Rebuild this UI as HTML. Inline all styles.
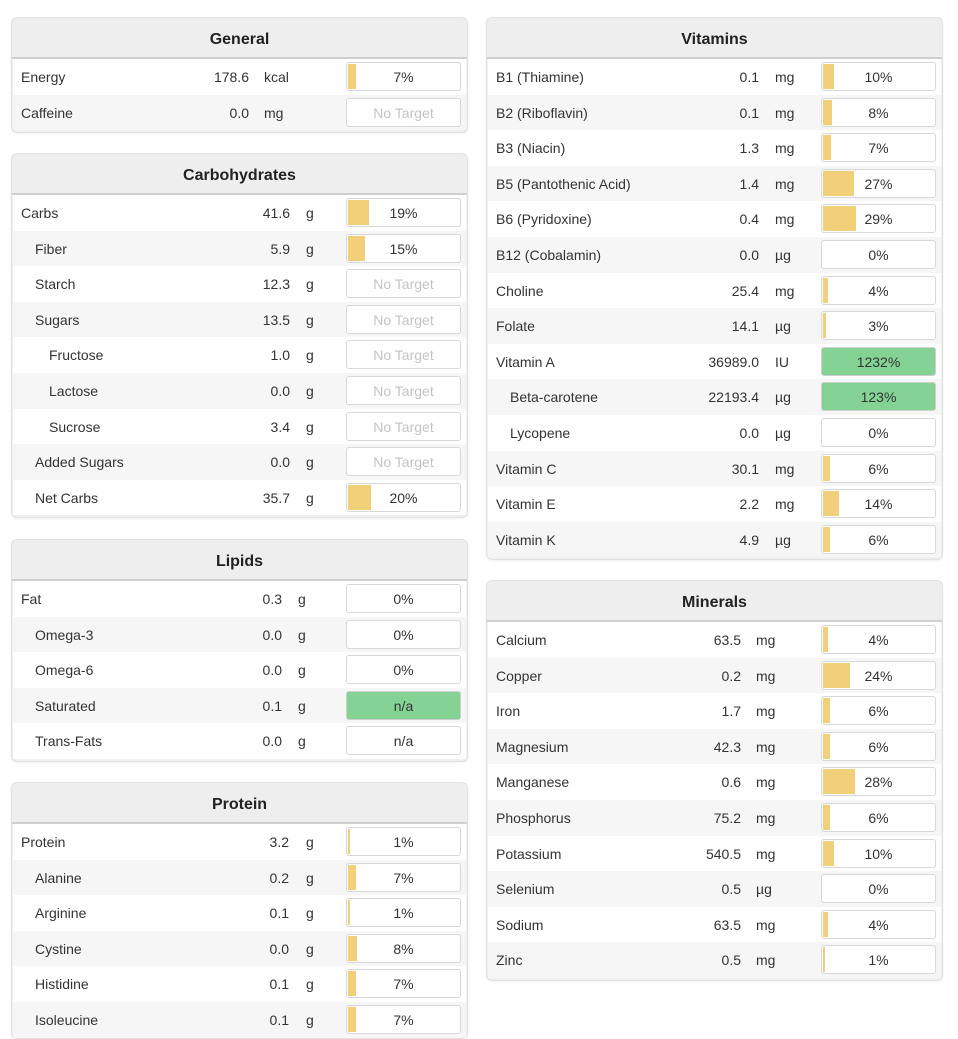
<!DOCTYPE html>
<html><head><meta charset="utf-8"><style>
body{margin:0;width:958px;height:1000px;overflow:hidden;background:#fff;font-family:"Liberation Sans",sans-serif;color:#333;position:relative}
.p{position:absolute;width:455px;background:#f0f0f0;border:1px solid #e2e2e2;border-radius:6px;box-shadow:0 1px 2px rgba(0,0,0,.06)}
.h{height:39px;border-bottom:2px solid #cfcfcf;text-align:center;font-weight:bold;font-size:16px;line-height:43px;color:#222;background:#eeeeee;border-radius:6px 6px 0 0}
.r{position:relative;height:35.6px;background:#fff;font-size:14px;line-height:37px;margin:0 1px}
.r:nth-child(even){background:#f6f6f6}
.n{position:absolute;left:8px}
.i1 .n{left:22px}.i2 .n{left:36px}
.v{position:absolute;text-align:right;width:100px}
.u{position:absolute}
.b{position:absolute;left:333px;top:3px;width:113px;height:27px;border:1px solid #d8d8d8;border-radius:3px;background:#fff;overflow:hidden;text-align:center;line-height:28px;font-size:14px}
.b i{position:absolute;left:1px;top:1px;bottom:1px;background:#f2d07a}
.b span{position:relative}
.b.g{background:#85d394;border-color:#cfcfcf}
.b.nt{color:#c4c4c4}
.pg .v{left:136px}.pg .u{left:251px}
.pc .v{left:177px}.pc .u{left:293px}
.pl .v{left:169px}.pl .u{left:285px}
.pp .v{left:176px}.pp .u{left:293px}
.pv .v{left:171px}.pv .u{left:287px}
.pm .v{left:153px}.pm .u{left:268px}
</style></head><body>

<div class="p pg" style="left:11px;top:17px"><div class="h">General</div>
<div>
<div class="r"><span class="n">Energy</span><span class="v">178.6</span><span class="u">kcal</span><div class="b"><i style="width:7%"></i><span>7%</span></div></div>
<div class="r"><span class="n">Caffeine</span><span class="v">0.0</span><span class="u">mg</span><div class="b nt">No Target</div></div>
</div><div style="height:2px"></div></div>

<div class="p pc" style="left:11px;top:153px"><div class="h">Carbohydrates</div>
<div>
<div class="r"><span class="n">Carbs</span><span class="v">41.6</span><span class="u">g</span><div class="b"><i style="width:19%"></i><span>19%</span></div></div>
<div class="r i1"><span class="n">Fiber</span><span class="v">5.9</span><span class="u">g</span><div class="b"><i style="width:15%"></i><span>15%</span></div></div>
<div class="r i1"><span class="n">Starch</span><span class="v">12.3</span><span class="u">g</span><div class="b nt">No Target</div></div>
<div class="r i1"><span class="n">Sugars</span><span class="v">13.5</span><span class="u">g</span><div class="b nt">No Target</div></div>
<div class="r i2"><span class="n">Fructose</span><span class="v">1.0</span><span class="u">g</span><div class="b nt">No Target</div></div>
<div class="r i2"><span class="n">Lactose</span><span class="v">0.0</span><span class="u">g</span><div class="b nt">No Target</div></div>
<div class="r i2"><span class="n">Sucrose</span><span class="v">3.4</span><span class="u">g</span><div class="b nt">No Target</div></div>
<div class="r i1"><span class="n">Added Sugars</span><span class="v">0.0</span><span class="u">g</span><div class="b nt">No Target</div></div>
<div class="r i1"><span class="n">Net Carbs</span><span class="v">35.7</span><span class="u">g</span><div class="b"><i style="width:20%"></i><span>20%</span></div></div>
</div><div style="height:2px"></div></div>

<div class="p pl" style="left:11px;top:539px"><div class="h">Lipids</div>
<div>
<div class="r"><span class="n">Fat</span><span class="v">0.3</span><span class="u">g</span><div class="b"><span>0%</span></div></div>
<div class="r i1"><span class="n">Omega-3</span><span class="v">0.0</span><span class="u">g</span><div class="b"><span>0%</span></div></div>
<div class="r i1"><span class="n">Omega-6</span><span class="v">0.0</span><span class="u">g</span><div class="b"><span>0%</span></div></div>
<div class="r i1"><span class="n">Saturated</span><span class="v">0.1</span><span class="u">g</span><div class="b g"><span>n/a</span></div></div>
<div class="r i1"><span class="n">Trans-Fats</span><span class="v">0.0</span><span class="u">g</span><div class="b"><span>n/a</span></div></div>
</div><div style="height:2px"></div></div>

<div class="p pp" style="left:11px;top:782px"><div class="h">Protein</div>
<div>
<div class="r"><span class="n">Protein</span><span class="v">3.2</span><span class="u">g</span><div class="b"><i style="width:1.5%"></i><span>1%</span></div></div>
<div class="r i1"><span class="n">Alanine</span><span class="v">0.2</span><span class="u">g</span><div class="b"><i style="width:7%"></i><span>7%</span></div></div>
<div class="r i1"><span class="n">Arginine</span><span class="v">0.1</span><span class="u">g</span><div class="b"><i style="width:1.5%"></i><span>1%</span></div></div>
<div class="r i1"><span class="n">Cystine</span><span class="v">0.0</span><span class="u">g</span><div class="b"><i style="width:8%"></i><span>8%</span></div></div>
<div class="r i1"><span class="n">Histidine</span><span class="v">0.1</span><span class="u">g</span><div class="b"><i style="width:7%"></i><span>7%</span></div></div>
<div class="r i1"><span class="n">Isoleucine</span><span class="v">0.1</span><span class="u">g</span><div class="b"><i style="width:7%"></i><span>7%</span></div></div>
</div></div>

<div class="p pv" style="left:486px;top:17px"><div class="h">Vitamins</div>
<div>
<div class="r"><span class="n">B1 (Thiamine)</span><span class="v">0.1</span><span class="u">mg</span><div class="b"><i style="width:10%"></i><span>10%</span></div></div>
<div class="r"><span class="n">B2 (Riboflavin)</span><span class="v">0.1</span><span class="u">mg</span><div class="b"><i style="width:8%"></i><span>8%</span></div></div>
<div class="r"><span class="n">B3 (Niacin)</span><span class="v">1.3</span><span class="u">mg</span><div class="b"><i style="width:7%"></i><span>7%</span></div></div>
<div class="r"><span class="n">B5 (Pantothenic Acid)</span><span class="v">1.4</span><span class="u">mg</span><div class="b"><i style="width:27%"></i><span>27%</span></div></div>
<div class="r"><span class="n">B6 (Pyridoxine)</span><span class="v">0.4</span><span class="u">mg</span><div class="b"><i style="width:29%"></i><span>29%</span></div></div>
<div class="r"><span class="n">B12 (Cobalamin)</span><span class="v">0.0</span><span class="u">µg</span><div class="b"><span>0%</span></div></div>
<div class="r"><span class="n">Choline</span><span class="v">25.4</span><span class="u">mg</span><div class="b"><i style="width:4%"></i><span>4%</span></div></div>
<div class="r"><span class="n">Folate</span><span class="v">14.1</span><span class="u">µg</span><div class="b"><i style="width:3%"></i><span>3%</span></div></div>
<div class="r"><span class="n">Vitamin A</span><span class="v">36989.0</span><span class="u">IU</span><div class="b g"><span>1232%</span></div></div>
<div class="r i1"><span class="n">Beta-carotene</span><span class="v">22193.4</span><span class="u">µg</span><div class="b g"><span>123%</span></div></div>
<div class="r i1"><span class="n">Lycopene</span><span class="v">0.0</span><span class="u">µg</span><div class="b"><span>0%</span></div></div>
<div class="r"><span class="n">Vitamin C</span><span class="v">30.1</span><span class="u">mg</span><div class="b"><i style="width:6%"></i><span>6%</span></div></div>
<div class="r"><span class="n">Vitamin E</span><span class="v">2.2</span><span class="u">mg</span><div class="b"><i style="width:14%"></i><span>14%</span></div></div>
<div class="r"><span class="n">Vitamin K</span><span class="v">4.9</span><span class="u">µg</span><div class="b"><i style="width:6%"></i><span>6%</span></div></div>
</div><div style="height:2px"></div></div>

<div class="p pm" style="left:486px;top:580px"><div class="h">Minerals</div>
<div>
<div class="r"><span class="n">Calcium</span><span class="v">63.5</span><span class="u">mg</span><div class="b"><i style="width:4%"></i><span>4%</span></div></div>
<div class="r"><span class="n">Copper</span><span class="v">0.2</span><span class="u">mg</span><div class="b"><i style="width:24%"></i><span>24%</span></div></div>
<div class="r"><span class="n">Iron</span><span class="v">1.7</span><span class="u">mg</span><div class="b"><i style="width:6%"></i><span>6%</span></div></div>
<div class="r"><span class="n">Magnesium</span><span class="v">42.3</span><span class="u">mg</span><div class="b"><i style="width:6%"></i><span>6%</span></div></div>
<div class="r"><span class="n">Manganese</span><span class="v">0.6</span><span class="u">mg</span><div class="b"><i style="width:28%"></i><span>28%</span></div></div>
<div class="r"><span class="n">Phosphorus</span><span class="v">75.2</span><span class="u">mg</span><div class="b"><i style="width:6%"></i><span>6%</span></div></div>
<div class="r"><span class="n">Potassium</span><span class="v">540.5</span><span class="u">mg</span><div class="b"><i style="width:10%"></i><span>10%</span></div></div>
<div class="r"><span class="n">Selenium</span><span class="v">0.5</span><span class="u">µg</span><div class="b"><span>0%</span></div></div>
<div class="r"><span class="n">Sodium</span><span class="v">63.5</span><span class="u">mg</span><div class="b"><i style="width:4%"></i><span>4%</span></div></div>
<div class="r"><span class="n">Zinc</span><span class="v">0.5</span><span class="u">mg</span><div class="b"><i style="width:1.5%"></i><span>1%</span></div></div>
</div><div style="height:2px"></div></div>

</body></html>
